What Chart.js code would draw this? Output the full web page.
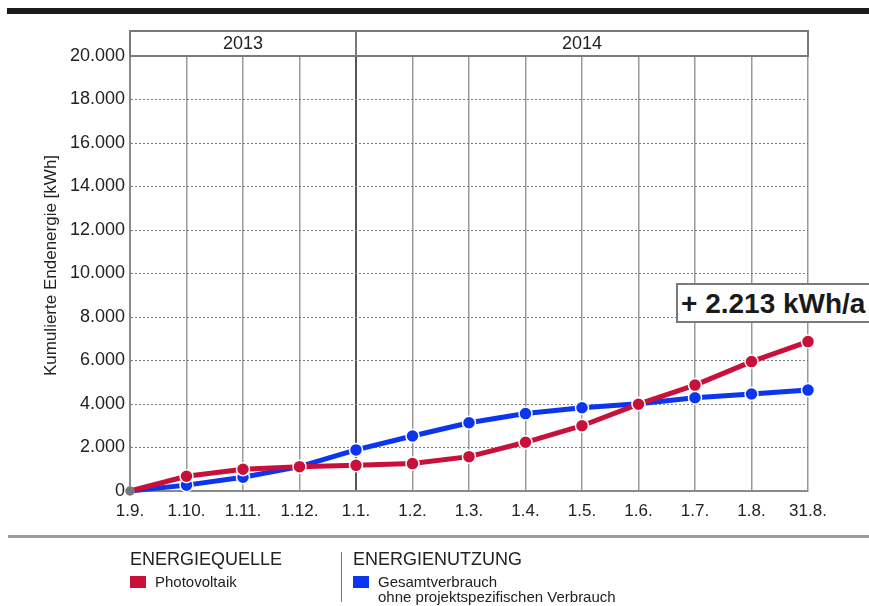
<!DOCTYPE html>
<html lang="de">
<head>
<meta charset="utf-8">
<title>Kumulierte Endenergie</title>
<script src="https://cdn.jsdelivr.net/npm/chart.js@4/dist/chart.umd.min.js"></script>
<style>
    body { margin: 0; background: #fff; font-family: "Liberation Sans", Arial, sans-serif; color: #222; }
    #wrap { position: relative; width: 869px; height: 606px; overflow: hidden; }
    #chart { position: absolute; left: 0; top: 0; width: 869px; height: 606px; }
    .topbar { position: absolute; left: 7px; right: 0; top: 8px; height: 6px; background: #1c1c1c; }
    .sep { position: absolute; left: 8px; right: 0; top: 535px; height: 3px; background: #9c9c9c; }
    .note { position: absolute; left: 676px; top: 283px; width: 260px; height: 40px; box-sizing: border-box;
            border: 2px solid #7a7a7a; background: #fff; font-weight: bold; font-size: 28px;
            line-height: 37px; padding-left: 3px; white-space: nowrap; color: #1a1a1a; }
    .legend { position: absolute; top: 549px; }
    .legend h4 { margin: 0; font-weight: normal; font-size: 18px; line-height: 21px; color: #222; }
    .legend .item { position: relative; margin-top: 4px; font-size: 15px; line-height: 15px; padding-left: 25px; }
    .legend .box { position: absolute; left: 0; top: 2px; width: 16px; height: 12px; }
    .divider { position: absolute; left: 341px; top: 552px; width: 1px; height: 50px; background: #777; }
</style>
</head>
<body>
<div id="wrap">
    <div class="topbar"></div>
    <canvas id="chart" width="869" height="606"></canvas>
    <div class="note">+ 2.213 kWh/a</div>
    <div class="sep"></div>
    <div class="legend" style="left:130px">
        <h4>ENERGIEQUELLE</h4>
        <div class="item"><span class="box" style="background:#c8103a"></span>Photovoltaik</div>
    </div>
    <div class="divider"></div>
    <div class="legend" style="left:353px">
        <h4>ENERGIENUTZUNG</h4>
        <div class="item"><span class="box" style="background:#0b35ee"></span>Gesamtverbrauch<br>ohne projektspezifischen Verbrauch</div>
    </div>
</div>
<script>
    // data
    const categories = ['1.9.', '1.10.', '1.11.', '1.12.', '1.1.', '1.2.', '1.3.', '1.4.', '1.5.', '1.6.', '1.7.', '1.8.', '31.8.'];
    const photovoltaik = [0, 680, 1000, 1120, 1180, 1260, 1580, 2240, 3000, 3990, 4870, 5950, 6870];
    const gesamtverbrauch = [0, 270, 630, 1120, 1890, 2530, 3140, 3560, 3830, 4010, 4290, 4460, 4640];
    const years = ['2013', '2014'];
    const yearStartIndex = [0, 4];
    const yMin = 0, yMax = 20000, yStep = 2000;
    const yTitle = 'Kumulierte Endenergie [kWh]';

    const red = '#c8103a';
    const blue = '#0b35ee';
    const font = "'Liberation Sans', Arial, sans-serif";

    function formatDE(v) {
        return String(v).replace(/\B(?=(\d{3})+(?!\d))/g, '.');
    }

    // year boxes above the plot area + rotated y title
    const yearHeader = {
        id: 'yearHeader',
        afterDraw(chart) {
            const ctx = chart.ctx;
            const x = chart.scales.x;
            const area = chart.chartArea;
            const top = area.top - 25;
            ctx.save();
            ctx.strokeStyle = '#7a7a7a';
            ctx.lineWidth = 2;
            ctx.fillStyle = '#222';
            ctx.font = '18px ' + font;
            ctx.textAlign = 'center';
            ctx.textBaseline = 'middle';
            years.forEach((yr, i) => {
                const x0 = x.getPixelForValue(yearStartIndex[i]);
                const x1 = i + 1 < years.length ? x.getPixelForValue(yearStartIndex[i + 1]) : area.right;
                ctx.strokeRect(x0, top, x1 - x0, area.top - top);
                ctx.fillText(yr, (x0 + x1) / 2, (top + area.top) / 2 + 1);
            });

            // axis title sits a bit above the middle of the axis in the original
            ctx.font = '17px ' + font;
            ctx.translate(51, (area.top + area.bottom) / 2 - 8);
            ctx.rotate(-Math.PI / 2);
            ctx.fillText(yTitle, 0, 0);
            ctx.restore();
        }
    };

    function pointRadius(c) { return c.dataIndex === 0 ? 4 : 6.5; }

    new Chart(document.getElementById('chart'), {
        type: 'line',
        data: {
            labels: categories,
            datasets: [{
                label: 'Photovoltaik',
                data: photovoltaik,
                borderColor: red,
                borderWidth: 5,
                pointRadius: pointRadius,
                pointBackgroundColor: c => c.dataIndex === 0 ? '#777' : red,
                pointBorderColor: c => c.dataIndex === 0 ? '#777' : '#fff',
                pointBorderWidth: 1.5,
                clip: false
            }, {
                label: 'Gesamtverbrauch ohne projektspezifischen Verbrauch',
                data: gesamtverbrauch,
                borderColor: blue,
                borderWidth: 5,
                pointRadius: pointRadius,
                pointBackgroundColor: blue,
                pointBorderColor: '#fff',
                pointBorderWidth: 1.5,
                clip: false
            }]
        },
        options: {
            responsive: false,
            animation: false,
            layout: { padding: { top: 56, right: 61, left: 0, bottom: 0 } },
            plugins: { legend: { display: false }, tooltip: { enabled: false } },
            scales: {
                x: {
                    offset: false,
                    afterFit: s => { s.height = 115; },
                    grid: {
                        drawTicks: false,
                        color: c => c.index === yearStartIndex[1] ? '#555' : '#9a9a9a',
                        lineWidth: c => c.index === yearStartIndex[1] ? 2 : 1.5
                    },
                    border: { display: true, color: '#8a8a8a', width: 2 },
                    ticks: { color: '#222', padding: 10, maxRotation: 0, autoSkip: false, font: { family: font, size: 17 } }
                },
                y: {
                    min: yMin,
                    max: yMax,
                    afterFit: s => { s.width = 130; },
                    grid: {
                        drawTicks: false,
                        color: '#7a7a7a',
                        lineWidth: 1
                    },
                    border: { display: true, color: '#8a8a8a', width: 2, dash: [2, 2] },
                    ticks: {
                        stepSize: yStep,
                        padding: 5,
                        color: '#222',
                        font: { family: font, size: 18 },
                        callback: v => formatDE(v)
                    }
                }
            }
        },
        plugins: [yearHeader]
    });
</script>
</body>
</html>
